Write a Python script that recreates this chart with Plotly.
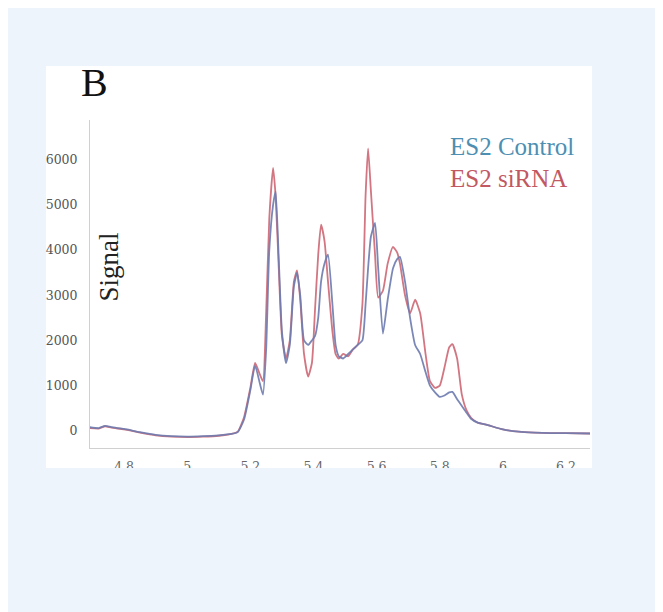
import plotly.graph_objects as go

# Retention time (x) and signal values for the two traces
rt = [4.69, 4.72, 4.74, 4.76, 4.80, 4.85, 4.90, 4.95, 5.00, 5.05, 5.10, 5.14, 5.16,
      5.18, 5.20, 5.215, 5.23, 5.24, 5.25, 5.26, 5.272, 5.28, 5.29, 5.30, 5.313,
      5.325, 5.338, 5.348, 5.358, 5.37, 5.383, 5.395, 5.405, 5.415, 5.424, 5.435,
      5.446, 5.46, 5.47, 5.48, 5.494, 5.51, 5.525, 5.54, 5.555, 5.565, 5.573, 5.582,
      5.595, 5.605, 5.62, 5.635, 5.652, 5.665, 5.674, 5.69, 5.706, 5.722, 5.738,
      5.755, 5.769, 5.785, 5.80, 5.815, 5.83, 5.84, 5.855, 5.87, 5.885, 5.90, 5.92,
      5.95, 6.00, 6.05, 6.10, 6.15, 6.20, 6.28]

control = [80, 60, 110, 80, 40, -30, -90, -120, -130, -120, -100, -70, -30,
           250, 900, 1450, 1050, 800, 1800, 4000, 5000, 5300, 3800, 2200, 1500,
           1900, 3200, 3500, 3000, 2000, 1900, 2000, 2100, 2500, 3300, 3700,
           3900, 2800, 1900, 1650, 1600, 1700, 1800, 1900, 2000, 2800, 3600, 4300,
           4600, 3600, 2150, 2900, 3600, 3800, 3850, 3300, 2500, 1900, 1700,
           1300, 1000, 850, 750, 780, 850, 860, 700, 550, 400, 260, 180,
           130, 30, -20, -40, -50, -50, -60]

sirna = [60, 50, 100, 70, 30, -40, -100, -130, -140, -130, -110, -70, -20,
         300, 950, 1500, 1250, 1100, 2600, 4700, 5820, 5200, 3600, 2100, 1600,
         2000, 3300, 3550, 2900, 1700, 1200, 1500, 2700, 3900, 4560, 4200,
         3300, 2200, 1700, 1600, 1700, 1650, 1800, 1900, 2800, 5200, 6250, 5300,
         3900, 2950, 3100, 3700, 4070, 3950, 3700, 3000, 2600, 2900, 2600,
         1700, 1100, 950, 1000, 1400, 1850, 1920, 1600, 800, 450, 280, 180,
         130, 30, -20, -40, -50, -50, -60]

x_ticks = [4.8, 5.0, 5.2, 5.4, 5.6, 5.8, 6.0, 6.2]
x_tick_text = ["4.8", "5", "5.2", "5.4", "5.6", "5.8", "6", "6.2"]
y_ticks = [0, 1000, 2000, 3000, 4000, 5000, 6000]

serif = "Liberation Serif, Times New Roman, serif"
tickserif = "DejaVu Serif, serif"
page_bg = "#eef4fb"

fig = go.Figure()
fig.add_trace(go.Scatter(x=rt, y=sirna, mode="lines", name="ES2 siRNA",
                         line=dict(color="#d27682", width=1.8, shape="spline", smoothing=0.5)))
fig.add_trace(go.Scatter(x=rt, y=control, mode="lines", name="ES2 Control",
                         line=dict(color="#6d7cb0", width=1.8, shape="spline", smoothing=0.5),
                         opacity=0.9))

fig.update_layout(
    width=663, height=612,
    margin=dict(l=82, r=81, t=112, b=172),
    paper_bgcolor=page_bg,
    plot_bgcolor="white",
    showlegend=False,
    font=dict(family=serif, color="#555"),
    shapes=[
        dict(type="rect", xref="paper", yref="paper",
             x0=-0.088, x1=1.004, y0=-0.061, y1=1.165,
             fillcolor="white", line=dict(width=0), layer="below"),
        # page background covering the lower part of the tick labels (cropped figure)
        dict(type="rect", xref="paper", yref="paper",
             x0=-0.2, x1=1.2, y0=-0.4, y1=-0.061,
             fillcolor=page_bg, line=dict(width=0), layer="above"),
    ],
    annotations=[
        dict(text="B", xref="paper", yref="paper", x=0.008, y=1.113,
             xanchor="center", yanchor="middle", showarrow=False,
             font=dict(family=serif, size=40, color="#111")),
        dict(text="Signal", xref="paper", yref="paper", x=0.038, y=0.55,
             xanchor="center", yanchor="middle", textangle=-90, showarrow=False,
             font=dict(family=serif, size=27, color="#222")),
        dict(text="ES2 Control", xref="paper", yref="paper", x=0.716, y=0.918,
             xanchor="left", yanchor="middle", showarrow=False,
             font=dict(family=serif, size=25, color="#4d8fb2")),
        dict(text="ES2 siRNA", xref="paper", yref="paper", x=0.716, y=0.823,
             xanchor="left", yanchor="middle", showarrow=False,
             font=dict(family=serif, size=25, color="#c25862")),
    ],
)
fig.update_xaxes(range=[4.692, 6.276], tickvals=x_ticks, ticktext=x_tick_text,
                 showgrid=False, zeroline=False, showline=True, linecolor="#d0d0d0",
                 linewidth=1, ticks="", ticklabelstandoff=7,
                 tickfont=dict(family=tickserif, size=12.5, color="#666"))
fig.update_yaxes(range=[-381, 6879], tickvals=y_ticks,
                 showgrid=False, zeroline=False, showline=True, linecolor="#d0d0d0",
                 linewidth=1, ticks="", ticklabelstandoff=9,
                 tickfont=dict(family=tickserif, size=12.5, color="#555"))

fig.write_html("out.html")
